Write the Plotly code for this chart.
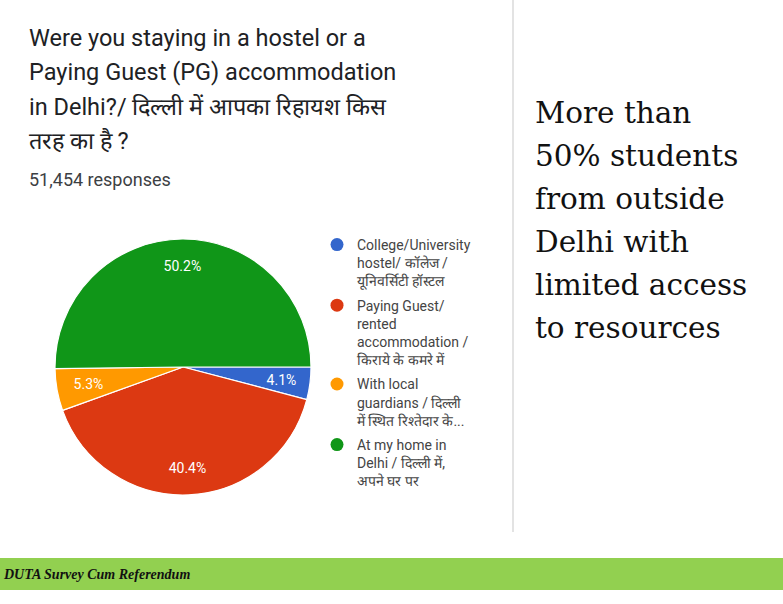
import plotly.graph_objects as go

W, H = 783, 604

# data
categories = [
    "College/University<br>hostel/ कॉलेज /<br>यूनिवर्सिटी हॉस्टल",
    "Paying Guest/<br>rented<br>accommodation /<br>किराये के कमरे में",
    "With local<br>guardians / दिल्ली<br>में स्थित रिश्तेदार के...",
    "At my home in<br>Delhi / दिल्ली में,<br>अपने घर पर",
]
shares = [4.1, 40.4, 5.3, 50.2]
colors = ["#3366CC", "#DC3912", "#FF9900", "#109618"]

title_lines = [
    "Were you staying in a hostel or a",
    "Paying Guest (PG) accommodation",
    "in Delhi?/ दिल्ली में आपका रिहायश किस",
    "तरह का है ?",
]
responses = "51,454 responses"
note_lines = [
    "More than",
    "50% students",
    "from outside",
    "Delhi with",
    "limited access",
    "to resources",
]
footer = "DUTA Survey Cum Referendum"


def py(p):
    """pixel row -> paper y"""
    return 1 - p / H


def px(p):
    return p / W


CX, CY, R = 183, 367, 128


def disc(r):
    return dict(x=[px(CX - r), px(CX + r)], y=[py(CY + r), py(CY - r)])


big = [v >= 10 for v in shares]
clear = "rgba(0,0,0,0)"

fig = go.Figure()

# the slices
fig.add_trace(
    go.Pie(
        values=shares,
        labels=categories,
        marker=dict(colors=colors, line=dict(color="white", width=1.2)),
        sort=False,
        direction="clockwise",
        rotation=90,
        textinfo="none",
        domain=disc(R),
        showlegend=False,
        hoverinfo="label+percent",
    )
)

# transparent overlays that only carry the percent labels, so they sit
# near the rim like the Google Forms chart does
for r, hole, keep in [(R, 0.58, big), (112, 0, [not b for b in big])]:
    fig.add_trace(
        go.Pie(
            values=shares,
            labels=categories,
            marker=dict(colors=[clear] * len(shares), line=dict(width=0)),
            hole=hole,
            sort=False,
            direction="clockwise",
            rotation=90,
            text=[f"{v:.1f}%" if k else "" for v, k in zip(shares, keep)],
            textinfo="text",
            textposition="inside",
            insidetextorientation="horizontal",
            textfont=dict(family="Roboto", size=14, color="white"),
            domain=disc(r),
            showlegend=False,
            hoverinfo="skip",
        )
    )

# legend entries with round markers, like Google Forms
for i, (name, c) in enumerate(zip(categories, colors)):
    fig.add_trace(
        go.Scatter(
            x=[None],
            y=[None],
            mode="markers",
            name=name,
            legendgroup=f"g{i}",
            marker=dict(color=c, size=13, symbol="circle"),
        )
    )

annotations = []
for i, line in enumerate(title_lines):
    annotations.append(
        dict(
            text=line, x=px(27), y=py(38 + 34.3 * i), xref="paper", yref="paper",
            xanchor="left", yanchor="middle", showarrow=False,
            font=dict(family="Roboto", size=23.5, color="#202124"),
        )
    )
annotations.append(
    dict(
        text=responses, x=px(27), y=py(179), xref="paper", yref="paper",
        xanchor="left", yanchor="middle", showarrow=False,
        font=dict(family="Roboto", size=18, color="#3c4043"),
    )
)
for i, line in enumerate(note_lines):
    annotations.append(
        dict(
            text=line, x=px(533), y=py(113 + 43 * i), xref="paper", yref="paper",
            xanchor="left", yanchor="middle", showarrow=False,
            font=dict(family="DejaVu Serif", size=29.5, color="#111111"),
        )
    )
annotations.append(
    dict(
        text=f"<b><i>{footer}</i></b>", x=px(1), y=py(574), xref="paper", yref="paper",
        xanchor="left", yanchor="middle", showarrow=False,
        font=dict(family="Liberation Serif", size=14, color="#111111"),
    )
)

shapes = [
    dict(type="line", xref="paper", yref="paper", x0=px(513), x1=px(513),
         y0=py(0), y1=py(532), line=dict(color="#e3e3e3", width=2)),
    dict(type="rect", xref="paper", yref="paper", x0=0, x1=1,
         y0=py(590), y1=py(558), fillcolor="#92D050", line=dict(width=0)),
]

fig.update_layout(
    width=W,
    height=H,
    margin=dict(l=0, r=0, t=0, b=0),
    paper_bgcolor="white",
    plot_bgcolor="white",
    xaxis=dict(visible=False),
    yaxis=dict(visible=False),
    annotations=annotations,
    shapes=shapes,
    uniformtext=dict(minsize=14, mode="show"),
    legend=dict(
        x=px(317), y=py(229), xanchor="left", yanchor="top",
        valign="top",
        font=dict(family="Roboto", size=14, color="#444444"),
        tracegroupgap=3,
        itemclick=False,
    ),
)

fig.write_html(
    "out.html",
    config={"displayModeBar": False},
    post_script="document.body.style.margin='0';document.body.style.overflow='hidden';",
)
